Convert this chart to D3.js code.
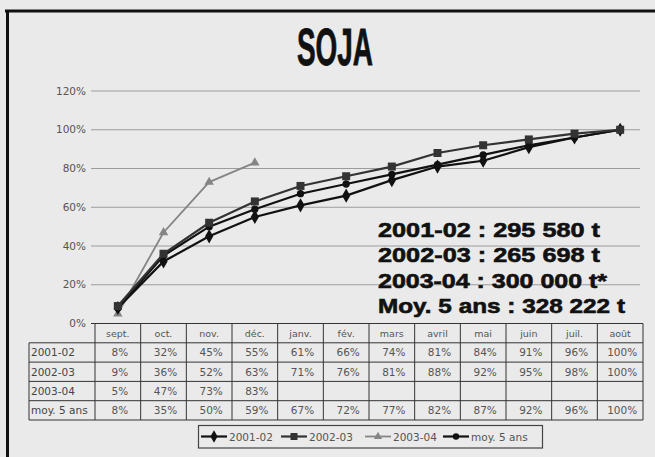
<!DOCTYPE html>
<html><head><meta charset="utf-8">
<script src="https://cdn.jsdelivr.net/npm/d3@7"></script>
<style>body{margin:0;background:#eaeaea;}svg{display:block}</style>
</head><body>
<svg id="c" width="655" height="457"></svg>
<script>
const title = "SOJA";
const months = ["sept.","oct.","nov.","déc.","janv.","fév.","mars","avril","mai","juin","juil.","août"];
const seriesNames = ["2001-02","2002-03","2003-04","moy. 5 ans"];
const v2001 = [8,32,45,55,61,66,74,81,84,91,96,100];
const v2002 = [9,36,52,63,71,76,81,88,92,95,98,100];
const v2003 = [5,47,73,83];
const vMoy  = [8,35,50,59,67,72,77,82,87,92,96,100];
const yTicks = [0,20,40,60,80,100,120];
const totals = ["2001-02 : 295 580 t","2002-03 : 265 698 t","2003-04 : 300 000 t*","Moy. 5 ans : 328 222 t"];

const series = [
  {name:seriesNames[0], values:v2001, color:"#111", width:2.2, marker:"diamond"},
  {name:seriesNames[1], values:v2002, color:"#333", width:2.2, marker:"square"},
  {name:seriesNames[2], values:v2003, color:"#858585", width:1.8, marker:"triangle"},
  {name:seriesNames[3], values:vMoy,  color:"#111", width:2.2, marker:"circle"}
];

const svg = d3.select("#c");
svg.append("rect").attr("width",655).attr("height",457).attr("fill","#eaeaea");
// frame
svg.append("line").attr("x1",5).attr("x2",655).attr("y1",11).attr("y2",11).attr("stroke","#111").attr("stroke-width",3);
svg.append("line").attr("x1",7.5).attr("x2",7.5).attr("y1",10).attr("y2",457).attr("stroke","#111").attr("stroke-width",3);

// title
svg.append("text").text(title).attr("x",335).attr("y",65)
  .attr("text-anchor","middle").attr("font-family","Liberation Sans, Arial, sans-serif")
  .attr("font-weight","bold").attr("font-size",52).attr("fill","#111")
  .attr("stroke","#111").attr("stroke-width",0.8)
  .attr("textLength",76).attr("lengthAdjust","spacingAndGlyphs");

const x = d3.scaleBand().domain(months).range([95,643]);
const y = d3.scaleLinear().domain([0,120]).range([323.5,91]);

// grid
svg.append("g").selectAll("line").data(yTicks.filter(d=>d>0)).join("line")
  .attr("x1",91).attr("x2",640).attr("y1",d=>y(d)).attr("y2",d=>y(d))
  .attr("stroke","#9c9c9c").attr("stroke-width",1);
svg.append("g").selectAll("text").data(yTicks).join("text")
  .attr("x",86).attr("y",d=>y(d)+3.5).attr("text-anchor","end")
  .attr("font-family","DejaVu Sans, sans-serif").attr("font-size",10.5).attr("fill","#555")
  .text(d=>d+"%");

// table
const tTop = y(0), rowH = 19.3;
const tbl = svg.append("g").attr("stroke","#333").attr("stroke-width",1);
const rightX = x.range()[1], labelX = 29;
tbl.append("line").attr("x1",91).attr("x2",rightX).attr("y1",tTop).attr("y2",tTop);
for(let r=1;r<=5;r++){
  tbl.append("line").attr("x1",labelX).attr("x2",rightX).attr("y1",tTop+r*rowH).attr("y2",tTop+r*rowH);
}
tbl.append("line").attr("x1",labelX).attr("x2",labelX).attr("y1",tTop+rowH).attr("y2",tTop+5*rowH);
months.forEach(m=>{
  tbl.append("line").attr("x1",x(m)).attr("x2",x(m)).attr("y1",tTop).attr("y2",tTop+5*rowH);
});
tbl.append("line").attr("x1",rightX).attr("x2",rightX).attr("y1",tTop).attr("y2",tTop+5*rowH);

const tf = "DejaVu Sans, sans-serif";
svg.append("g").selectAll("text").data(months).join("text")
  .attr("x",d=>x(d)+x.bandwidth()/2).attr("y",tTop+rowH/2+3.5).attr("text-anchor","middle")
  .attr("font-family",tf).attr("font-size",9.5).attr("fill","#555").text(d=>d);
series.forEach((s,i)=>{
  const ry = tTop+(i+1)*rowH+rowH/2+4;
  svg.append("text").attr("x",labelX+2).attr("y",ry).attr("font-family",tf).attr("font-size",10.5)
    .attr("fill","#444").text(s.name);
  svg.append("g").selectAll("text").data(s.values).join("text")
    .attr("x",(d,j)=>x(months[j])+x.bandwidth()/2+2).attr("y",ry).attr("text-anchor","middle")
    .attr("font-family",tf).attr("font-size",10.5).attr("fill","#555").text(d=>d+"%");
});

// lines & markers
function marker(g, type, cx, cy, color, sz){
  if(type==="diamond") g.append("path").attr("d",d3.symbol(d3.symbolDiamond, sz*sz*0.9)()).attr("transform",`translate(${cx},${cy})`).attr("fill",color);
  else if(type==="square") g.append("rect").attr("x",cx-sz/2).attr("y",cy-sz/2).attr("width",sz).attr("height",sz).attr("fill",color);
  else if(type==="triangle") g.append("path").attr("d",d3.symbol(d3.symbolTriangle, sz*sz*0.6)()).attr("transform",`translate(${cx},${cy})`).attr("fill",color);
  else g.append("circle").attr("cx",cx).attr("cy",cy).attr("r",sz/2.2).attr("fill",color);
}
const line = d3.line().x((d,j)=>x(months[j])+x.bandwidth()/2).y(d=>y(d));
const plotOrder = [2,0,3,1];
plotOrder.forEach(i=>{
  const s = series[i];
  svg.append("path").attr("d",line(s.values)).attr("fill","none").attr("stroke",s.color).attr("stroke-width",s.width);
  const g = svg.append("g");
  s.values.forEach((v,j)=>marker(g,s.marker,x(months[j])+x.bandwidth()/2,y(v),s.color,8));
});

// totals annotation
svg.append("g").selectAll("text").data(totals).join("text")
  .attr("x",378).attr("y",(d,i)=>237+i*25.3)
  .attr("font-family","Liberation Sans, Arial, sans-serif").attr("font-weight","bold")
  .attr("font-size",20.5).attr("fill","#111").attr("stroke","#111").attr("stroke-width",0.6)
  .attr("textLength",(d,i)=>[222,222,229,247][i]).attr("lengthAdjust","spacingAndGlyphs")
  .text(d=>d);

// legend
svg.append("rect").attr("x",198.5).attr("y",425.5).attr("width",344).attr("height",22.5)
  .attr("fill","#eaeaea").attr("stroke","#444").attr("stroke-width",1.2);
const legX = [201,281,365,443];
const lg = svg.append("g");
series.forEach((s,i)=>{
  const lx = legX[i], ly = 436.5;
  lg.append("line").attr("x1",lx).attr("x2",lx+26).attr("y1",ly).attr("y2",ly).attr("stroke",s.color).attr("stroke-width",s.width);
  marker(lg,s.marker,lx+13,ly,s.color,7);
  lg.append("text").attr("x",lx+28).attr("y",ly+4).attr("font-family",tf).attr("font-size",10.5).attr("fill","#555").text(s.name);
});
</script>
</body></html>
